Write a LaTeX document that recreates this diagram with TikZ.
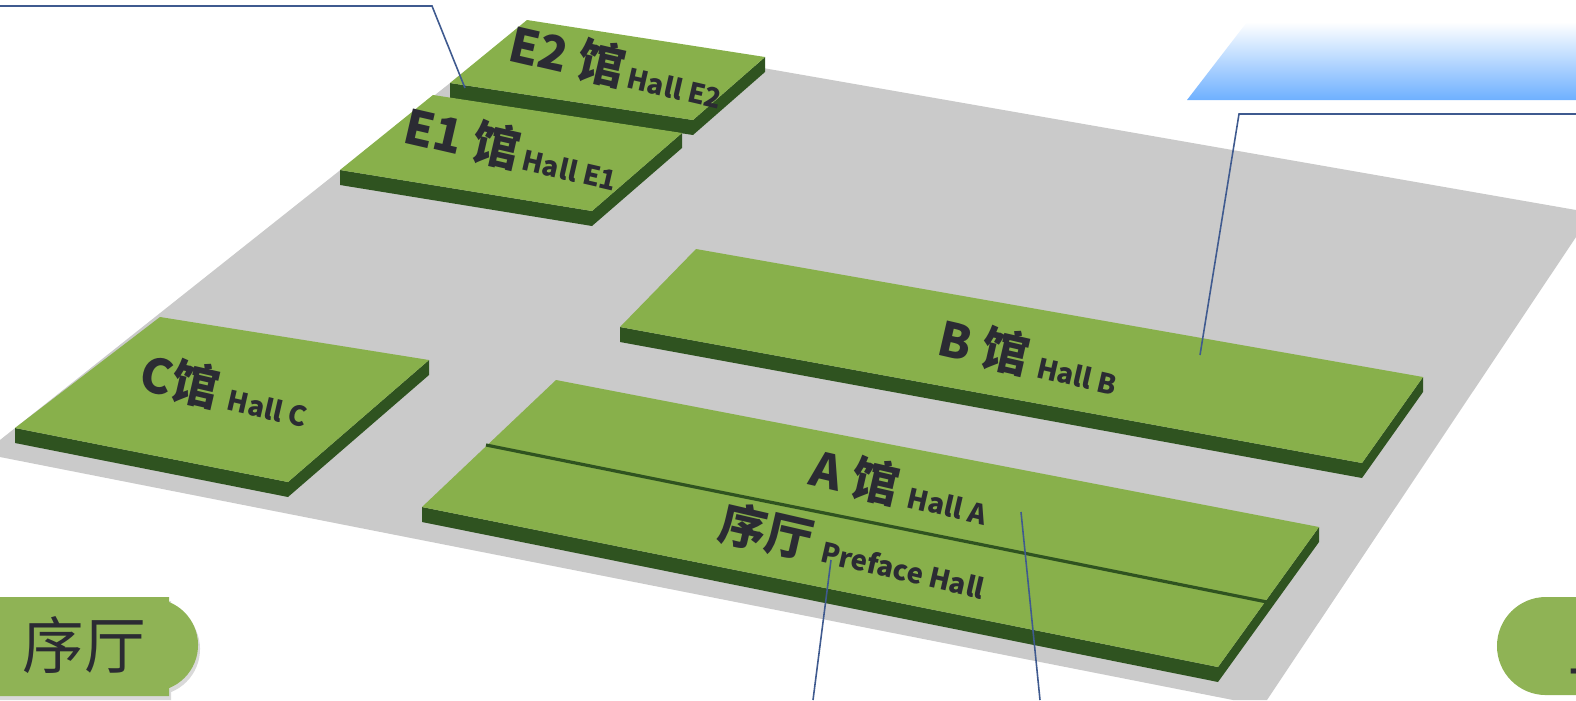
\documentclass[tikz,border=0pt]{standalone}
\usepackage{fontspec}
\newfontfamily\cjk{Noto Sans CJK SC}
\usetikzlibrary{shadows,calc}
\definecolor{halltop}{HTML}{88B04B}
\definecolor{hallside}{HTML}{2F5320}
\definecolor{ground}{HTML}{CACACA}
\definecolor{leader}{HTML}{3F5A8F}
\definecolor{badge}{HTML}{8FB355}
\definecolor{sky}{HTML}{6EB0FF}
\definecolor{ink}{HTML}{2B2B33}
\newcommand{\hallbig}{\fontsize{13.5}{14}\selectfont}
\newcommand{\hallsmall}{\fontsize{7.8}{8}\selectfont}
\tikzset{
  halllabel/.style={font=\cjk\bfseries\hallbig,text=ink,rotate=-13,inner sep=0pt},
  leaderline/.style={draw=leader,line width=0.45pt},
  badgetext/.style={font=\cjk\fontsize{17.5}{18}\selectfont,text=ink,inner sep=0pt},
  badgeshape/.style={fill=badge,drop shadow={opacity=0.3,shadow xshift=0.02cm,shadow yshift=-0.04cm}}
}
\begin{document}
\begin{tikzpicture}[x=0.01cm,y=-0.01cm]
\useasboundingbox (0,0) rectangle (1576,700);
\begin{scope}
\clip (0,0) rectangle (1576,700);
\fill[ground] (0,440) -- (527,22) -- (763,68) -- (1576,210) -- (1576,237) -- (1267,700) -- (1233,700) -- (0,457) -- cycle;
\shade[top color=white,bottom color=sky] (1187,100) -- (1247,22) -- (1576,22) -- (1576,100) -- cycle;

\coordinate (E2-a) at (527,20);
\coordinate (E2-b) at (765,57);
\coordinate (E2-c) at (693,120);
\coordinate (E2-d) at (450,83);
\coordinate (E1-a) at (433,95);
\coordinate (E1-b) at (682,133);
\coordinate (E1-c) at (592,211);
\coordinate (E1-d) at (340,170);
\coordinate (B-a) at (696,249);
\coordinate (B-b) at (1423,377);
\coordinate (B-c) at (1362,463);
\coordinate (B-d) at (620,327);
\coordinate (C-a) at (160,317);
\coordinate (C-b) at (429,360);
\coordinate (C-c) at (288,482);
\coordinate (C-d) at (15,428);
\coordinate (A-a) at (556,380);
\coordinate (A-b) at (1319,527);
\coordinate (A-c) at (1218,667);
\coordinate (A-d) at (422,507);

\foreach \hall in {E2,E1,B,C,A}{
  \fill[hallside] (\hall-d) -- (\hall-c) -- (\hall-b) -- ++(0,15) -- ($(\hall-c)+(0,15)$) -- ($(\hall-d)+(0,15)$) -- cycle;
  \fill[halltop] (\hall-a) -- (\hall-b) -- (\hall-c) -- (\hall-d) -- cycle;
}
\coordinate (div-l) at (486,445);
\coordinate (div-r) at (1267,602);
\draw[hallside,line width=0.9pt] (div-l) -- (div-r);

\node[halllabel] (hallE2) at (617,67) {E2 馆\hallsmall\,Hall E2};
\node[halllabel] (hallE1) at (512,149) {E1 馆\hallsmall\,Hall E1};
\node[halllabel] (hallB) at (1029,357) {B 馆 \hallsmall Hall B};
\node[halllabel] (hallC) at (225,391) {C馆 \hallsmall Hall C};
\node[halllabel] (hallA) at (900,487) {A 馆 \hallsmall Hall A};
\node[halllabel] (hallP) at (853,551) {序厅 \hallsmall Preface Hall};

\coordinate (lead-e2a) at (0,6);
\coordinate (lead-e2b) at (432,6);
\coordinate (lead-e2c) at (465,88);
\coordinate (lead-ba) at (1576,114);
\coordinate (lead-bb) at (1239,114);
\coordinate (lead-bc) at (1200,355);
\coordinate (lead-pa) at (813,700);
\coordinate (lead-pb) at (831,560);
\coordinate (lead-aa) at (1040,700);
\coordinate (lead-ab) at (1021,512);
\draw[leaderline] (lead-e2a) -- (lead-e2b) -- (lead-e2c);
\draw[leaderline] (lead-ba) -- (lead-bb) -- (lead-bc);
\draw[leaderline] (lead-pa) -- (lead-pb);
\draw[leaderline] (lead-aa) -- (lead-ab);

\path[badgeshape] (-20,597) -- (169,597) -- (169,602) arc[start angle=68,end angle=-68,radius=0.464cm] -- (169,696) -- (-20,696) -- cycle;
\fill[badge] (1576,597) -- (1546,597) arc[start angle=90,end angle=270,radius=0.49cm] -- (1576,695) -- cycle;
\node[badgetext] (badgeP) at (84,645) {序厅};
\node[badgetext,anchor=west] (badgeR) at (1568,682) {一};
\end{scope}
\end{tikzpicture}
\end{document}
